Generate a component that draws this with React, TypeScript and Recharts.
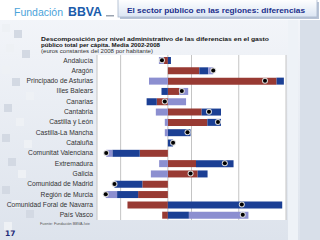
import React from 'react'
import { ComposedChart, Bar, Line, XAxis, YAxis, CartesianGrid } from 'recharts'

// Diferencias de gasto per cápita respecto a la media, por nivel administrativo
const regions = [
  'Andalucía',
  'Aragón',
  'Principado de Asturias',
  'Illes Balears',
  'Canarias',
  'Cantabria',
  'Castilla y León',
  'Castilla-La Mancha',
  'Cataluña',
  'Comunitat Valenciana',
  'Extremadura',
  'Galicia',
  'Comunidad de Madrid',
  'Región de Murcia',
  'Comunidad Foral de Navarra',
  'País Vasco',
]
const autonomica = [-17, 133, 460, 48, -47, 143, 167, 0, 0, -119, 119, 126, -108, -126, -171, -24]
const central = [13, 38, 31, -27, -43, 82, 58, 96, 22, -116, 159, 42, -118, -89, 484, 89]
const local = [-21, 21, -80, 38, 77, -51, -13, -13, 0, -26, -37, -72, 0, -48, 0, 252]
const xTicks = [-300, -200, -100, 0, 100, 200, 300, 400, 500]

const data = regions.map((name, i) => ({
  name,
  autonomica: autonomica[i],
  central: central[i],
  local: local[i],
  total: autonomica[i] + central[i] + local[i],
}))

const RED = '#983a33'
const BLUE = '#1b3f94'
const LAVENDER = '#8c8fd0'

const TotalDot = (props: any) => {
  const { cx, cy, index } = props
  if (cx == null || cy == null) return null
  return (
    <g key={`dot-${index}`}>
      <circle cx={cx} cy={cy} r={3} fill="#d9d9d9" />
      <circle cx={cx} cy={cy} r={2} fill="#000" />
    </g>
  )
}

// one-line region label, no wrapping
const RegionTick = (props: any) => {
  const { x, y, payload } = props
  return (
    <text x={x} y={y} dy="0.35em" textAnchor="end" fontSize={6.7} fill="#333" fontFamily="Liberation Sans, Arial, sans-serif">
      {payload.value}
    </text>
  )
}

// mosaico gris del margen izquierdo
const mosaic: [number, number][] = [
  [2, 24], [14, 30], [6, 44], [22, 50], [2, 66], [12, 78], [26, 92], [4, 104],
  [16, 118], [2, 134], [24, 140], [8, 158], [18, 170], [2, 186], [12, 200], [26, 210], [4, 222],
]

function Backdrop() {
  return (
    <svg width={320} height={240} style={{ position: 'absolute', left: 0, top: 0 }}>
      <defs>
        <linearGradient id="bg" x1="0" y1="0" x2="0" y2="1">
          <stop offset="0" stopColor="#f4f6fa" />
          <stop offset="1" stopColor="#dde3ec" />
        </linearGradient>
        <linearGradient id="titleBox" x1="0" y1="0" x2="0" y2="1">
          <stop offset="0" stopColor="#ffffff" />
          <stop offset="1" stopColor="#dbe5f3" />
        </linearGradient>
      </defs>
      <rect x={0} y={0} width={320} height={240} fill="url(#bg)" />
      <rect x={0} y={0} width={320} height={20} fill="#ffffff" />
      {mosaic.map(([x, y], i) => (
        <rect key={i} x={x} y={y} width={8} height={8} fill={i % 2 ? '#d3d9e3' : '#eef1f5'} />
      ))}
      <rect x={288} y={20} width={10} height={220} fill="#eef2f7" />
      <rect x={300} y={20} width={20} height={220} fill="#d8dfe9" />

      <text x={14} y={16} fontFamily="Liberation Sans Narrow, Liberation Sans, sans-serif" fontSize={11.5} fill="#4ba3da" textLength={49} lengthAdjust="spacingAndGlyphs">Fundación</text>
      <text x={68} y={16} fontFamily="Liberation Sans, sans-serif" fontWeight="bold" fontSize={12} fill="#1c5cab" textLength={34} lengthAdjust="spacingAndGlyphs">BBVA</text>
      <rect x={106} y={15} width={8} height={1.5} fill="#9aa3b0" />

      <rect x={120} y={2} width={199} height={17} fill="#b7c3d6" />
      <rect x={118} y={-1} width={199} height={18} fill="url(#titleBox)" stroke="#a9b7cc" strokeWidth={0.8} />
      <text x={127} y={12.5} fontFamily="Liberation Sans, sans-serif" fontWeight="bold" fontSize={7.6} fill="#1b2f8c" textLength={178} lengthAdjust="spacingAndGlyphs">El sector público en las regiones: diferencias</text>

      <text x={41} y={40.5} fontFamily="Liberation Sans, sans-serif" fontWeight="bold" fontSize={6} fill="#141414" textLength={228} lengthAdjust="spacingAndGlyphs">Descomposición por nivel administrativo de las diferencias en el gasto</text>
      <text x={41} y={46.5} fontFamily="Liberation Sans, sans-serif" fontWeight="bold" fontSize={6} fill="#141414" textLength={119} lengthAdjust="spacingAndGlyphs">público total per cápita. Media 2002-2008</text>
      <text x={41} y={53} fontFamily="Liberation Sans, sans-serif" fontSize={5.8} fill="#333" textLength={112} lengthAdjust="spacingAndGlyphs">(euros constantes del 2008 por habitante)</text>

      <text x={40} y={225} fontFamily="Liberation Sans, sans-serif" fontSize={3.8} fill="#555">Fuente: Fundación BBVA-Ivie</text>
      <text x={5} y={236} fontFamily="DejaVu Sans, sans-serif" fontWeight="bold" fontSize={7.5} fill="#1e2a78">17</text>
    </svg>
  )
}

export default function App() {
  return (
    <div style={{ position: 'absolute', left: 0, top: 0, width: 320, height: 240, overflow: 'hidden' }}>
      <Backdrop />
      <div style={{ position: 'absolute', left: 0, top: 0 }}>
        <ComposedChart
          width={320}
          height={240}
          data={data}
          layout="vertical"
          stackOffset="sign"
          barSize={7}
          margin={{ top: 55, right: 34, bottom: 20, left: 0 }}
        >
          <CartesianGrid horizontal={false} stroke="#c4c4c4" fill="#ffffff" fillOpacity={1} />
          <XAxis type="number" domain={[-300, 500]} ticks={xTicks} hide />
          <YAxis
            type="category"
            dataKey="name"
            width={97}
            axisLine={false}
            tickLine={false}
            tickSize={0}
            tickMargin={4}
            interval={0}
            tick={RegionTick}
          />
          <Bar dataKey="autonomica" stackId="a" fill={RED} isAnimationActive={false} />
          <Bar dataKey="central" stackId="a" fill={BLUE} isAnimationActive={false} />
          <Bar dataKey="local" stackId="a" fill={LAVENDER} isAnimationActive={false} />
          <Line dataKey="total" stroke="none" dot={TotalDot} activeDot={false} isAnimationActive={false} />
        </ComposedChart>
      </div>
    </div>
  )
}
